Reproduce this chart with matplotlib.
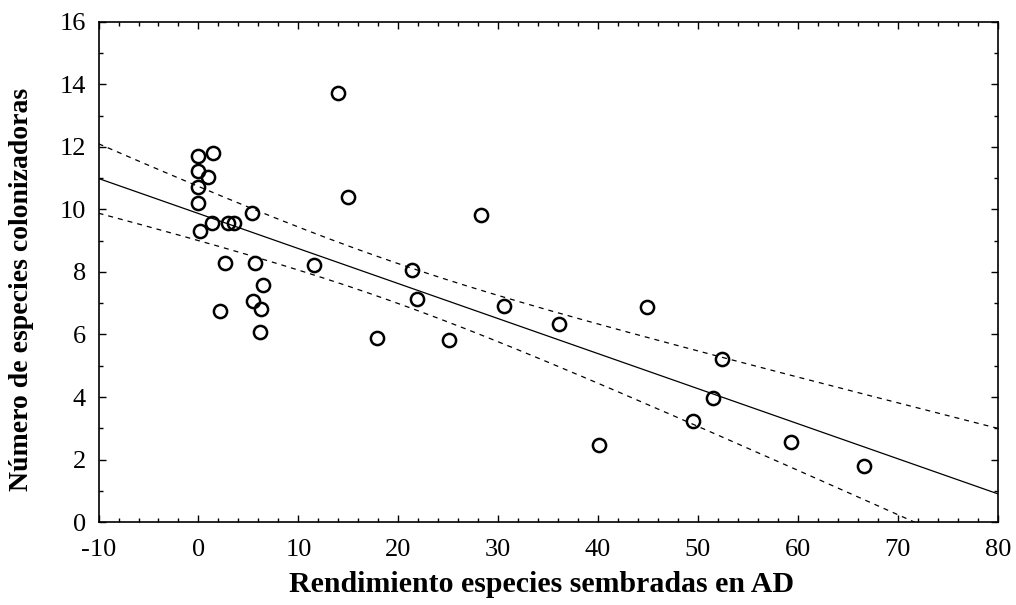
import numpy as np
import matplotlib
matplotlib.use("Agg")
import matplotlib.pyplot as plt
from matplotlib.ticker import MultipleLocator

# data
x = np.array([0.0, 1.5, 0.0, 1.0, 0.0, 0.0, 0.2, 1.4, 3.0, 3.6, 5.4,
              14.0, 15.0, 2.7, 5.7, 11.6, 6.5, 5.5, 2.2, 6.3, 6.2,
              17.9, 21.4, 21.9, 25.1, 28.3, 30.6, 36.1, 40.1, 44.9,
              52.4, 51.5, 49.5, 59.3, 66.6])
y = np.array([11.72, 11.8, 11.22, 11.05, 10.72, 10.22, 9.3, 9.58, 9.58, 9.58, 9.88,
              13.73, 10.4, 8.3, 8.3, 8.23, 7.57, 7.08, 6.76, 6.82, 6.07,
              5.9, 8.07, 7.15, 5.82, 9.82, 6.9, 6.32, 2.47, 6.88,
              5.22, 3.97, 3.22, 2.55, 1.79])

x_label = "Rendimiento especies sembradas en AD"
y_label = "Número de especies colonizadoras"

# linear fit and 95% confidence band of the mean
n = len(x)
slope, intercept = np.polyfit(x, y, 1)
resid = y - (intercept + slope * x)
s = np.sqrt(np.sum(resid ** 2) / (n - 2))
sxx = np.sum((x - x.mean()) ** 2)
t_val = 2.0345  # t(0.975, 33)
xx = np.linspace(-10, 80, 200)
fit = intercept + slope * xx
half = t_val * s * np.sqrt(1.0 / n + (xx - x.mean()) ** 2 / sxx)

plt.rcParams['font.family'] = ['Liberation Serif', 'DejaVu Serif']
plt.rcParams['axes.unicode_minus'] = False

fig = plt.figure(figsize=(10.16, 6.05), dpi=100)
ax = fig.add_axes([0.097, 0.137, 0.885, 0.827])

ax.plot(xx, fit, color='black', lw=0.9)
ax.plot(xx, fit + half, color='black', lw=0.9, ls=(0, (4, 4)))
ax.plot(xx, fit - half, color='black', lw=0.9, ls=(0, (4, 4)))
ax.plot(x, y, 'o', mfc='none', mec='black', ms=9.5, mew=1.8, clip_on=False)

ax.set_xlim(-10, 80)
ax.set_ylim(0, 16)
ax.xaxis.set_major_locator(MultipleLocator(10))
ax.xaxis.set_minor_locator(MultipleLocator(2))
ax.yaxis.set_major_locator(MultipleLocator(2))
ax.yaxis.set_minor_locator(MultipleLocator(1))
ax.tick_params(which='both', direction='in', top=True, right=True, width=1)
ax.tick_params(which='major', length=5, labelsize=19)
ax.tick_params(which='minor', length=3)
ax.tick_params(axis='x', which='major', pad=12)
ax.tick_params(axis='y', which='major', pad=9)
for sp in ax.spines.values():
    sp.set_linewidth(1.2)

ax.set_xlabel(x_label, fontsize=21.5, fontweight='bold')
ax.set_ylabel(y_label, fontsize=20, fontweight='bold')
ax.xaxis.set_label_coords(0.493, -0.098)
ax.yaxis.set_label_coords(-0.072, 0.466)

fig.savefig("out.png", dpi=100)
